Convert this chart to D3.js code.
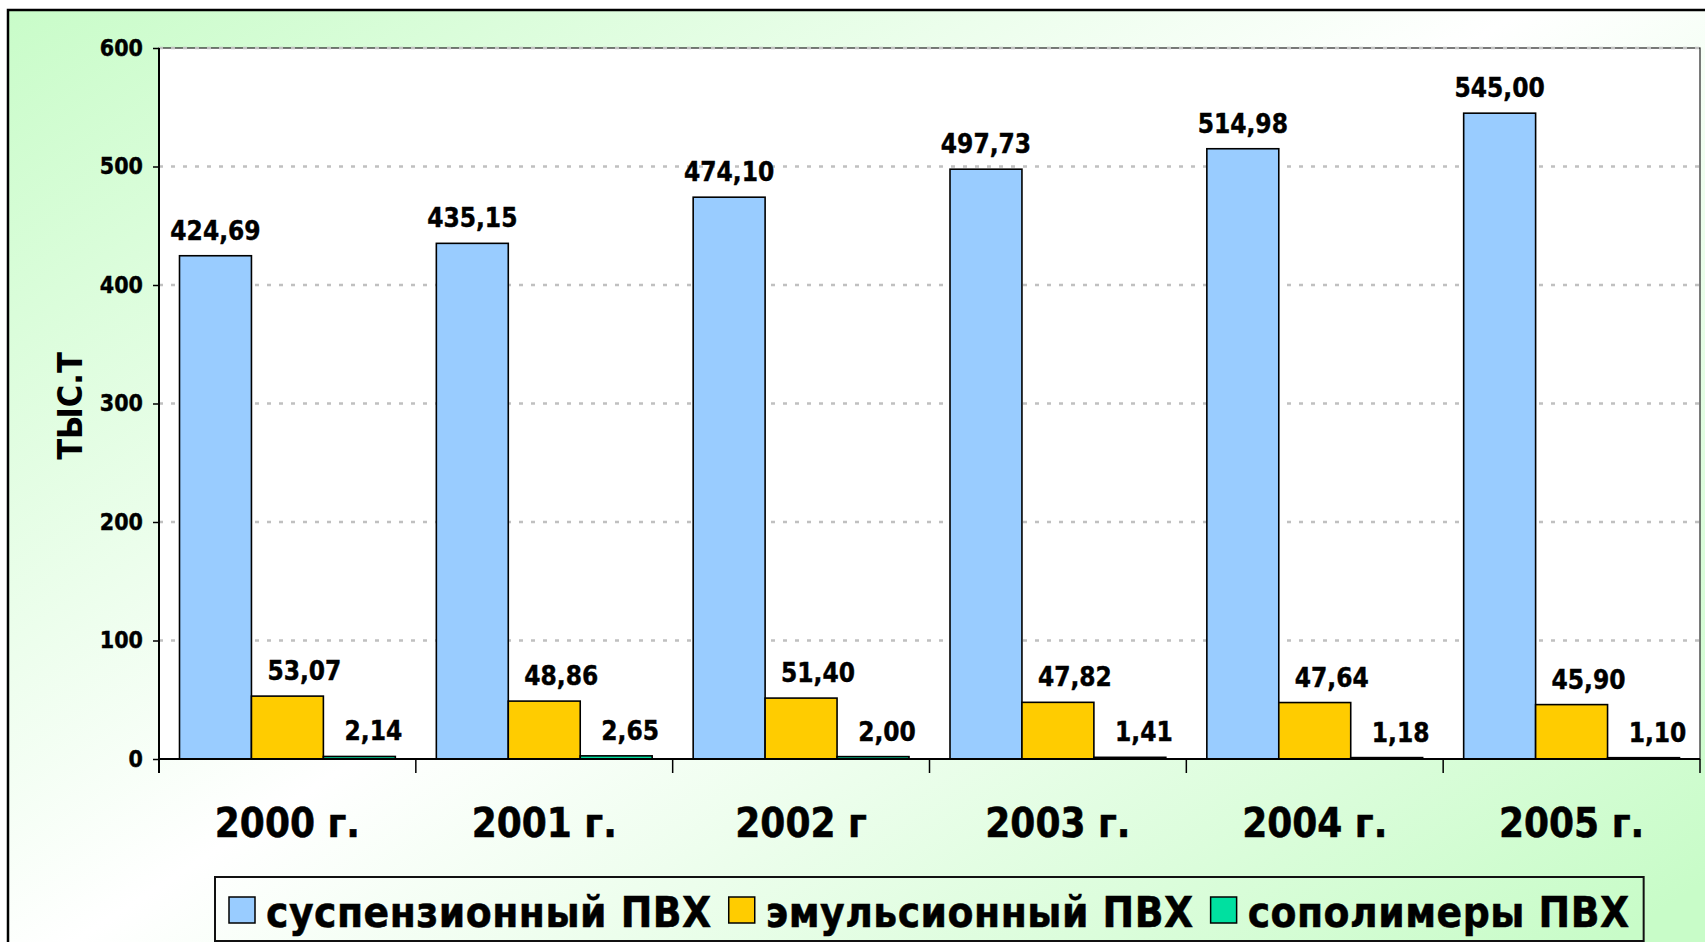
<!DOCTYPE html>
<html>
<head>
<meta charset="utf-8">
<script src="https://cdn.jsdelivr.net/npm/d3@7"></script>
<style>
  body { margin: 0; background: #fff; overflow: hidden; }
  svg text { font-family: "DejaVu Sans Condensed", "DejaVu Sans", sans-serif; font-stretch: condensed; font-weight: bold; fill: #000; }
</style>
</head>
<body>
<div id="chart"></div>
<script>
// data
const years = ['2000 г.', '2001 г.', '2002 г', '2003 г.', '2004 г.', '2005 г.'];
const seriesNames = ['суспензионный ПВХ', 'эмульсионный ПВХ', 'сополимеры ПВХ'];
const suspension = [424.69, 435.15, 474.10, 497.73, 514.98, 545.00];
const emulsion = [53.07, 48.86, 51.40, 47.82, 47.64, 45.90];
const copolymers = [2.14, 2.65, 2.00, 1.41, 1.18, 1.10];
const yTicks = [0, 100, 200, 300, 400, 500, 600];
const yTitle = 'ТЫС.Т';

const seriesColor = ['#99ccff', '#ffcc00', '#00e0a0'];
const labelShift = [0, 17, 14];   // data labels of 2nd/3rd series sit a bit to the right

const W = 1705, H = 942;
const plot = {left: 159, right: 1700, top: 48, bottom: 759};

var svg = d3.select('#chart').append('svg')
  .attr('width', W).attr('height', H);

// background gradient of the chart area
var defs = svg.append('defs');
var grad = defs.append('linearGradient')
  .attr('id', 'bg')
  .attr('gradientUnits', 'userSpaceOnUse')
  .attr('x1', 0).attr('y1', 0).attr('x2', 900).attr('y2', 1400);
grad.append('stop').attr('offset', 0).attr('stop-color', '#c8fcc8');
grad.append('stop').attr('offset', 0.5).attr('stop-color', '#ffffff');
grad.append('stop').attr('offset', 1).attr('stop-color', '#c8fcc8');

svg.append('rect')
  .attr('x', 8).attr('y', 10)
  .attr('width', W + 20).attr('height', H + 20)
  .attr('fill', 'url(#bg)')
  .attr('stroke', '#000').attr('stroke-width', 2.5);

// plot area
svg.append('rect')
  .attr('x', plot.left).attr('y', plot.top)
  .attr('width', plot.right - plot.left).attr('height', plot.bottom - plot.top)
  .attr('fill', '#fff')
  .attr('stroke', '#222').attr('stroke-width', 1.2);

var y = d3.scaleLinear().domain([0, 600]).range([plot.bottom, plot.top]);
var x0 = d3.scaleBand().domain(years).range([plot.left, plot.right]).padding(0);
var x1 = d3.scaleBand().domain(d3.range(3)).range([0, x0.bandwidth()])
  .paddingInner(0).paddingOuter(0.285);

// gridlines
svg.append('g').selectAll('line')
  .data(yTicks.filter(d => d > 0))
  .enter().append('line')
  .attr('x1', plot.left).attr('x2', plot.right)
  .attr('y1', d => y(d)).attr('y2', d => y(d))
  .attr('stroke', '#c0c0c0').attr('stroke-width', 2.5)
  .attr('stroke-dasharray', '4,8');

// bars
const table = years.map((yr, i) => ({
  year: yr,
  vals: [suspension[i], emulsion[i], copolymers[i]]
}));

var groups = svg.append('g').selectAll('g')
  .data(table)
  .enter().append('g')
  .attr('transform', d => `translate(${x0(d.year)},0)`);

groups.selectAll('rect')
  .data(d => d.vals.map((v, s) => ({v: v, s: s})))
  .enter().append('rect')
  .attr('x', d => x1(d.s))
  .attr('width', x1.bandwidth())
  .attr('y', d => y(d.v))
  .attr('height', d => y(0) - y(d.v))
  .attr('fill', d => seriesColor[d.s])
  .attr('stroke', '#000').attr('stroke-width', 1.6);

var fmt = d3.format('.2f');
groups.selectAll('text')
  .data(d => d.vals.map((v, s) => ({v: v, s: s})))
  .enter().append('text')
  .attr('x', d => x1(d.s) + x1.bandwidth() / 2 + labelShift[d.s])
  .attr('y', d => y(d.v) - 16)
  .attr('text-anchor', 'middle')
  .style('font-size', '26px')
  .style('stroke', '#000').style('stroke-width', 0.4)
  .text(d => fmt(d.v).replace('.', ','));

// y axis
var yAxis = svg.append('g')
  .attr('transform', `translate(${plot.left},0)`)
  .call(d3.axisLeft(y).tickValues(yTicks).tickSize(6).tickPadding(10));
yAxis.select('.domain').attr('stroke', '#000').attr('stroke-width', 2)
  .attr('d', `M0,${plot.top}V${plot.bottom + 14}`);
yAxis.selectAll('.tick line').attr('stroke', '#000').attr('stroke-width', 1.5);
yAxis.selectAll('.tick text')
  .attr('font-family', null)
  .style('font-size', '23px')
  .style('stroke', '#000').style('stroke-width', 0.4);

// x axis: boundaries between categories get ticks
var xAxis = svg.append('g')
  .attr('transform', `translate(0,${plot.bottom})`);
xAxis.append('line')
  .attr('x1', plot.left).attr('x2', plot.right)
  .attr('stroke', '#000').attr('stroke-width', 2.2);
xAxis.selectAll('line.tk')
  .data(years)
  .enter().append('line')
  .attr('class', 'tk')
  .attr('x1', d => x0(d) + x0.bandwidth()).attr('x2', d => x0(d) + x0.bandwidth())
  .attr('y1', 0).attr('y2', 14)
  .attr('stroke', '#000').attr('stroke-width', 1.5);
xAxis.selectAll('text')
  .data(years)
  .enter().append('text')
  .attr('x', d => x0(d) + x0.bandwidth() / 2)
  .attr('y', 78)
  .attr('text-anchor', 'middle')
  .style('font-size', '40px')
  .style('stroke', '#000').style('stroke-width', 0.5)
  .text(d => d);

// y title
svg.append('text')
  .attr('transform', 'translate(82,406) rotate(-90)')
  .attr('text-anchor', 'middle')
  .style('font-size', '34px')
  .text(yTitle);

// legend
var leg = svg.append('g');
var legBox = leg.append('rect')
  .attr('y', 877).attr('height', 64)
  .attr('fill', 'none').attr('stroke', '#111').attr('stroke-width', 2);
var lx = 229;
seriesNames.forEach((name, i) => {
  leg.append('rect')
    .attr('x', lx).attr('y', 897).attr('width', 26).attr('height', 26)
    .attr('fill', seriesColor[i]).attr('stroke', '#000').attr('stroke-width', 1.5);
  var t = leg.append('text')
    .attr('x', lx + 37).attr('y', 927)
    .style('font-size', '42px')
    .style('letter-spacing', '0.5px')
    .style('stroke', '#000').style('stroke-width', 0.5)
    .text(name);
  lx += 37 + t.node().getComputedTextLength() + 17;
});
legBox.attr('x', 215).attr('width', lx - 17 + 14 - 215);
</script>
</body>
</html>
